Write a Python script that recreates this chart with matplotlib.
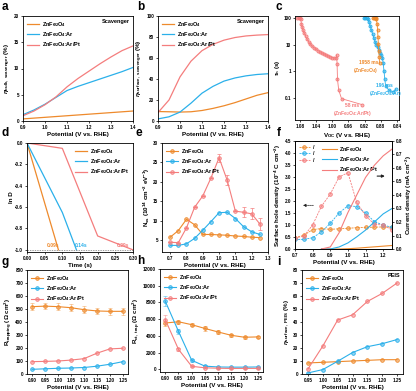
import matplotlib
matplotlib.use("Agg")
import matplotlib.pyplot as plt
import numpy as np

plt.rcParams['font.family'] = ['Liberation Sans', 'DejaVu Sans']
plt.rcParams['font.weight'] = 'bold'
plt.rcParams['axes.labelweight'] = 'bold'
plt.rcParams['mathtext.fontset'] = 'custom'
plt.rcParams['mathtext.rm'] = 'Liberation Sans:bold'
plt.rcParams['mathtext.bf'] = 'Liberation Sans:bold'
plt.rcParams['mathtext.it'] = 'Liberation Sans:italic:bold'
plt.rcParams['axes.linewidth'] = 0.6
plt.rcParams['xtick.major.width'] = 0.5
plt.rcParams['ytick.major.width'] = 0.5
plt.rcParams['xtick.major.size'] = 1.5
plt.rcParams['ytick.major.size'] = 1.5

OR = '#EE8A2C'
BL = '#2BB0EA'
RD = '#F47D7D'
labels = ['ZnFe$_2$O$_4$', 'ZnFe$_2$O$_4$:Ar', 'ZnFe$_2$O$_4$:Ar/Pt']
cols = [OR, BL, RD]

# ---- data ----
a_x = [0.90, 0.95, 1.00, 1.05, 1.10, 1.15, 1.20, 1.25, 1.30, 1.35, 1.40]
a_zfo = [0.40, 0.55, 0.70, 0.85, 1.00, 1.15, 1.30, 1.45, 1.60, 1.75, 1.90]
a_ar = [1.2, 2.1, 3.2, 4.5, 5.8, 6.6, 7.3, 8.0, 8.7, 9.4, 10.2]
a_arpt = [1.0, 1.9, 3.1, 4.6, 6.5, 8.1, 9.5, 10.9, 12.2, 13.4, 14.3]

b_x = [0.90, 0.95, 1.00, 1.05, 1.10, 1.15, 1.20, 1.25, 1.30, 1.35, 1.40]
b_zfo = [9.0, 8.8, 8.5, 8.8, 10.0, 12.0, 14.5, 17.5, 21.0, 24.5, 27.0]
b_ar = [2.0, 4.0, 8.5, 17.0, 26.5, 33.0, 38.0, 41.0, 43.0, 44.3, 45.0]
b_arpt = [8.0, 20.0, 42.0, 57.0, 67.0, 73.0, 77.0, 79.5, 81.0, 81.8, 82.3]

c_zfo_v = [0.899, 0.897, 0.895, 0.893, 0.891, 0.889, 0.888, 0.887, 0.886, 0.885, 0.884, 0.883]
c_zfo_t = [100, 100, 100, 100, 90, 60, 35, 20, 11, 6, 3.5, 2.0]
c_ar_v = [0.921, 0.918, 0.915, 0.912, 0.909, 0.906, 0.903, 0.900, 0.897, 0.894, 0.891,
          0.888, 0.885, 0.882, 0.879, 0.876, 0.874, 0.872, 0.870, 0.868, 0.860, 0.850, 0.843]
c_ar_t = [100, 100, 100, 95, 70, 50, 35, 25, 18, 13, 10, 8, 6.5, 5, 4, 3.2, 2.0, 1.0, 0.5, 0.28,
          0.20, 0.17, 0.21]
c_pt_v = [1.086, 1.083, 1.080, 1.078, 1.076, 1.074, 1.072, 1.069, 1.066, 1.062, 1.058, 1.054,
          1.050, 1.045, 1.040, 1.035, 1.030, 1.025, 1.020, 1.015, 1.010, 1.005, 1.000, 0.995,
          0.990, 0.989, 0.988, 0.987, 0.984, 0.977, 0.927]
c_pt_t = [100, 100, 100, 90, 60, 45, 35, 27, 21, 16, 12.5, 10.5, 9, 7.8, 6.8, 6.0, 5.4, 4.9,
          4.5, 4.1, 3.8, 3.5, 3.3, 3.2, 3.3, 4.0, 1.9, 0.5, 0.2, 0.095, 0.057]

d_zfo_t = [0.0, 0.089]
d_zfo = [0.0, -1.0]
d_ar_t = [0.0, 0.10, 0.14]
d_ar = [0.0, -0.65, -1.0]
d_pt_t = [0.0, 0.10, 0.20, 0.30]
d_pt = [0.0, -0.05, -0.87, -1.0]

e_x = [0.70, 0.75, 0.80, 0.85, 0.90, 0.95, 1.00, 1.05, 1.10, 1.15, 1.20, 1.25]
e_zfo = [5.8, 7.5, 10.4, 9.0, 6.5, 6.5, 6.4, 6.3, 6.1, 6.0, 5.8, 5.7]
e_ar = [3.7, 3.7, 4.1, 5.5, 7.6, 9.8, 12.1, 12.2, 10.6, 8.5, 7.2, 6.5]
e_pt = [4.5, 4.4, 8.2, 13.5, 16.4, 21.0, 26.2, 20.4, 12.5, 12.2, 11.8, 9.2]
e_pt_err = [0, 0, 0, 0, 0, 0, 1.0, 1.3, 0, 1.3, 1.4, 1.5]

f_x = [0.70, 0.75, 0.80, 0.85, 0.90, 0.95, 1.00, 1.05, 1.10, 1.15, 1.20, 1.25]
f_zfo = [0.47, 0.57, 0.81, 0.85, 0.82, 0.84, 0.86, 0.89, 0.90, 0.91, 0.92, 0.91]
f_ar = [0.40, 0.40, 0.47, 0.71, 1.07, 1.50, 1.80, 1.77, 1.50, 1.14, 1.00, 0.90]
f_pt = [0.47, 0.53, 1.00, 1.78, 2.29, 3.00, 3.18, 1.94, 1.39, 1.03, 1.00, 0.79]
fj_x = [0.85, 0.90, 0.95, 1.00, 1.05, 1.10, 1.15, 1.20, 1.25]
fj_zfo = [0.0, 0.0, 0.0, 0.002, 0.006, 0.011, 0.016, 0.021, 0.026]
fj_ar = [0.0, 0.0, 0.015, 0.045, 0.09, 0.14, 0.20, 0.26, 0.30]
fj_pt = [0.0, 0.015, 0.12, 0.27, 0.40, 0.53, 0.62, 0.69, 0.74]

g_x = [0.90, 0.95, 1.00, 1.05, 1.10, 1.15, 1.20, 1.25]
g_zfo = [518, 522, 518, 510, 495, 485, 482, 482]
g_ar = [36, 40, 44, 46, 50, 60, 75, 95]
g_pt = [95, 97, 100, 107, 118, 160, 193, 198]

h_x = [0.90, 0.95, 1.00, 1.05, 1.10, 1.15, 1.20, 1.25]
h_zfo = [5550, 5700, 5350, 4900, 4480, 4080, 3850, 3890]
h_ar = [8150, 4550, 1100, 400, 300, 280, 280, 300]
h_pt = [5950, 2400, 380, 200, 150, 120, 130, 130]
h_zfo_err = [300, 250, 200, 250, 200, 150, 150, 150]
h_ar_err = [600, 300, 150, 100, 50, 50, 50, 50]
h_pt_err = [500, 200, 100, 50, 50, 50, 50, 50]

i_x = [0.95, 1.00, 1.05, 1.10, 1.15, 1.20, 1.25]
i_zfo = [8.5, 9.0, 9.5, 10.0, 10.5, 11.0, 11.0]
i_ar = [0.8, 3.4, 9.8, 16.5, 21.0, 23.3, 26.5]
i_pt = [3.8, 21.5, 41.5, 45.5, 55.8, 62.0, 70.0]

# ---- figure ----
W, H = 416, 391
fig = plt.figure(figsize=(W / 100, H / 100), dpi=100)

def ax_at(x0, y0, x1, y1):
    return fig.add_axes([x0 / W, 1 - y1 / H, (x1 - x0) / W, (y1 - y0) / H])

TFS = 3.3
LFS = 4.5
LEGFS = 4.0

def style(ax):
    ax.tick_params(labelsize=TFS, pad=1.2, direction='out')
    for lab in ax.get_xticklabels() + ax.get_yticklabels():
        lab.set_fontweight('bold')

def leg(ax, loc='upper left', hl=2.2, **kw):
    return ax.legend(loc=loc, fontsize=LEGFS, frameon=False, handlelength=hl,
                     borderaxespad=0.3, labelspacing=0.25, handletextpad=0.5, **kw)

def letter(x, y, s):
    fig.text(x / W, 1 - y / H, s, fontsize=8.5, fontweight='bold', va='top', ha='left')

mk = dict(marker='o', markersize=2.6, markeredgewidth=0.6, lw=0.8)

def mline(ax, x, y, c, label=None, **kw):
    d = dict(mk)
    d.update(kw)
    return ax.plot(x, y, color=c, markerfacecolor=c + '88', markeredgecolor=c, label=label, **d)[0]

# a
ax = ax_at(23, 16, 133, 121)
for y, c, l in zip([a_zfo, a_ar, a_arpt], cols, labels):
    ax.plot(a_x, y, color=c, lw=0.9, label=l)
ax.set_xlim(0.9, 1.4); ax.set_ylim(0, 20)
ax.set_xticks([0.9, 1.0, 1.1, 1.2, 1.3, 1.4]); ax.set_yticks([0, 5, 10, 15, 20])
ax.set_ylabel(r'$\eta_{\mathrm{bulk,\ scavenger}}$ (%)', fontsize=LFS, labelpad=1)
ax.set_xlabel('Potential (V vs. RHE)', fontsize=LFS, labelpad=1.5)
ax.text(0.97, 0.97, 'Scavenger', transform=ax.transAxes, fontsize=LEGFS, ha='right', va='top')
leg(ax); style(ax)
letter(2, 1, 'a')

# b
ax = ax_at(158, 16, 268, 121)
for y, c, l in zip([b_zfo, b_ar, b_arpt], cols, labels):
    ax.plot(b_x, y, color=c, lw=0.9, label=l)
ax.set_xlim(0.9, 1.4); ax.set_ylim(0, 100)
ax.set_xticks([0.9, 1.0, 1.1, 1.2, 1.3, 1.4]); ax.set_yticks([0, 20, 40, 60, 80, 100])
ax.set_ylabel(r'$\eta_{\mathrm{surface,\ scavenger}}$ (%)', fontsize=LFS, labelpad=1)
ax.set_xlabel('Potential (V vs. RHE)', fontsize=LFS, labelpad=1.5)
ax.text(0.97, 0.97, 'Scavenger', transform=ax.transAxes, fontsize=LEGFS, ha='right', va='top')
leg(ax); style(ax)
letter(137, 1, 'b')

# c
ax = ax_at(295, 16, 399, 120)
mline(ax, c_pt_v, c_pt_t, RD, markersize=2.2, lw=0.6)
mline(ax, c_ar_v, c_ar_t, BL, markersize=2.2, lw=0.6)
mline(ax, c_zfo_v, c_zfo_t, OR, markersize=2.2, lw=0.6)
ax.set_yscale('log')
ax.set_xlim(1.092, 0.835); ax.set_ylim(0.015, 120)
ax.set_xticks([1.08, 1.04, 1.00, 0.96, 0.92, 0.88, 0.84])
ax.set_xticklabels(['1.08', '1.04', '1.00', '0.96', '0.92', '0.88', '0.84'])
ax.set_yticks([0.1, 1, 10, 100]); ax.set_yticklabels(['0.1', '1', '10', '100'])
ax.minorticks_off()
ax.set_ylabel(r'$\tau_{\mathrm{n}}$ (s)', fontsize=LFS, labelpad=1)
ax.set_xlabel(r'V$_{\mathrm{OC}}$ (V vs. RHE)', fontsize=LFS, labelpad=1.5)
ax.text(0.886, 1.4, '1958 ms\n(ZnFe$_2$O$_4$)', color=OR, fontsize=3.6, ha='right', va='center')
ax.text(0.870, 0.19, '196 ms\n(ZnFe$_2$O$_4$:Ar)', color=BL, fontsize=3.6, ha='center', va='center')
ax.text(0.950, 0.033, '58 ms\n(ZnFe$_2$O$_4$:Ar/Pt)', color=RD, fontsize=3.6, ha='center', va='center')
style(ax)
letter(276, 1, 'c')

# d
ax = ax_at(27, 143, 133, 252)
ax.plot(d_zfo_t, d_zfo, color=OR, lw=0.9, label=labels[0])
ax.plot(d_ar_t, d_ar, color=BL, lw=0.9, label=labels[1])
ax.plot(d_pt_t, d_pt, color=RD, lw=0.9, label=labels[2])
ax.axhline(-1.0, color='#777777', lw=0.5, ls=(0, (2, 1.5)))
ax.set_xlim(0, 0.30); ax.set_ylim(-1.02, 0.0)
ax.set_xticks([0, 0.05, 0.10, 0.15, 0.20, 0.25, 0.30])
ax.set_xticklabels(['0.00', '0.05', '0.10', '0.15', '0.20', '0.25', '0.30'])
ax.set_yticks([-1.0, -0.8, -0.6, -0.4, -0.2, 0.0])
ax.set_yticklabels(['-1.0', '-0.8', '-0.6', '-0.4', '-0.2', '0.0'])
ax.text(0.074, -0.985, '0.09s', color=OR, fontsize=3.6, ha='center', va='bottom')
ax.text(0.154, -0.985, '0.14s', color=BL, fontsize=3.6, ha='center', va='bottom')
ax.text(0.272, -0.985, '0.29s', color=RD, fontsize=3.6, ha='center', va='bottom')
ax.set_ylabel('ln D', fontsize=LFS, labelpad=1)
ax.set_xlabel('Time (s)', fontsize=LFS, labelpad=1.5)
leg(ax, loc='upper right')
style(ax)
letter(2, 127, 'd')

# e
ax = ax_at(162, 143, 268, 252)
mline(ax, e_x, e_zfo, OR, label=labels[0])
mline(ax, e_x, e_ar, BL, label=labels[1])
mline(ax, e_x, e_pt, RD, label=labels[2])
ax.errorbar(e_x, e_pt, yerr=e_pt_err, fmt='none', ecolor=RD, elinewidth=0.5, capsize=1.2, capthick=0.5)
ax.set_xlim(0.65, 1.30); ax.set_ylim(2, 30)
ax.set_xticks([0.7, 0.8, 0.9, 1.0, 1.1, 1.2, 1.3]); ax.set_yticks([5, 10, 15, 20, 25, 30])
ax.set_ylabel(r'N$_{\mathrm{ss}}$ (10$^{14}$ cm$^{-2}$ eV$^{-1}$)', fontsize=LFS, labelpad=1)
ax.set_xlabel('Potential (V vs. RHE)', fontsize=LFS, labelpad=1.5)
leg(ax); style(ax)
letter(136, 127, 'e')

# f
ax = ax_at(295, 141, 392, 249)
ax2 = ax.twinx()
hs = []
for y, c in zip([f_zfo, f_ar, f_pt], cols):
    hs.append(mline(ax, f_x, y, c, ls=(0, (2.5, 1.2)), lw=0.6))
js = []
for y, c in zip([fj_zfo, fj_ar, fj_pt], cols):
    js.append(ax2.plot(fj_x, y, color=c, lw=0.8)[0])
ax.set_xlim(0.7, 1.25); ax.set_ylim(0, 4.5)
ax2.set_ylim(0, 0.8)
ax.set_xticks([0.7, 0.8, 0.9, 1.0, 1.1, 1.2])
ax.set_yticks(np.arange(0, 4.51, 0.5))
ax.set_yticklabels(['%.1f' % v for v in np.arange(0, 4.51, 0.5)])
ax2.set_yticks(np.arange(0, 0.81, 0.1))
ax2.set_yticklabels(['%.1f' % v for v in np.arange(0, 0.81, 0.1)])
ax.set_ylabel(r'Surface hole density (10$^{-4}$ C cm$^{-2}$)', fontsize=LFS, labelpad=1)
ax2.set_ylabel(r'Current density (mA cm$^{-2}$)', fontsize=LFS, labelpad=1)
ax.set_xlabel('Potential (V vs. RHE)', fontsize=LFS, labelpad=1.5)
l1 = ax.legend(hs, ['/', '/', '/'], loc='upper left', fontsize=LEGFS, frameon=False,
               handlelength=2.0, borderaxespad=0.3, labelspacing=0.25, handletextpad=0.5)
ax.add_artist(l1)
ax.legend(js, labels, loc='upper left', bbox_to_anchor=(0.24, 1.0), fontsize=LEGFS, frameon=False,
          handlelength=2.6, borderaxespad=0.3, labelspacing=0.25, handletextpad=0.5)
ax.annotate('', xy=(0.73, 1.82), xytext=(0.82, 1.82),
            arrowprops=dict(arrowstyle='-|>', color='#222222', lw=0.5, ls=(0, (2, 1)),
                            mutation_scale=4))
ax2.annotate('', xy=(1.225, 0.54), xytext=(1.15, 0.54),
             arrowprops=dict(arrowstyle='-|>', color='#222222', lw=0.8, mutation_scale=4))
style(ax); style(ax2)
ax2.tick_params(pad=1.0)
letter(277, 127, 'f')

# g
ax = ax_at(27, 270, 128, 374)
mline(ax, g_x, g_zfo, OR, label=labels[0])
mline(ax, g_x, g_ar, BL, label=labels[1])
mline(ax, g_x, g_pt, RD, label=labels[2])
ax.errorbar(g_x, g_zfo, yerr=25, fmt='none', ecolor=OR, elinewidth=0.4, capsize=1.2, capthick=0.4, alpha=0.7)
ax.set_xlim(0.88, 1.27); ax.set_ylim(0, 800)
ax.set_xticks(g_x); ax.set_xticklabels(['%.2f' % v for v in g_x])
ax.set_yticks(range(0, 801, 100))
ax.set_ylabel(r'R$_{\mathrm{trapping}}$ ($\Omega$ cm$^2$)', fontsize=LFS, labelpad=1)
ax.set_xlabel('Potential (V vs. RHE)', fontsize=LFS, labelpad=1.5)
leg(ax); style(ax)
letter(2, 256, 'g')

# h
ax = ax_at(160, 269, 263, 372)
for y, e, c, l in zip([h_zfo, h_ar, h_pt], [h_zfo_err, h_ar_err, h_pt_err], cols, labels):
    mline(ax, h_x, y, c, label=l)
    ax.errorbar(h_x, y, yerr=e, fmt='none', ecolor=c, elinewidth=0.4, capsize=1.2, capthick=0.4, alpha=0.8)
ax.set_xlim(0.88, 1.27); ax.set_ylim(-300, 12000)
ax.set_xticks(h_x); ax.set_xticklabels(['%.2f' % v for v in h_x])
ax.set_yticks(range(0, 12001, 2000))
ax.set_ylabel(r'R$_{\mathrm{ct,\ trap}}$ ($\Omega$ cm$^2$)', fontsize=LFS, labelpad=1)
ax.set_xlabel('Potential (V vs. RHE)', fontsize=LFS, labelpad=1.5)
leg(ax); style(ax)
letter(137, 255, 'h')

# i
ax = ax_at(302, 270, 403, 374)
mline(ax, i_x, i_zfo, OR, label=labels[0])
mline(ax, i_x, i_ar, BL, label=labels[1])
mline(ax, i_x, i_pt, RD, label=labels[2])
ax.set_xlim(0.93, 1.27); ax.set_ylim(0, 80)
ax.set_xticks(i_x); ax.set_xticklabels(['%.2f' % v for v in i_x])
ax.set_yticks(range(0, 81, 10))
ax.set_ylabel(r'$\eta_{\mathrm{surface,\ PEIS}}$ (%)', fontsize=LFS, labelpad=1)
ax.set_xlabel('Potential (V vs. RHE)', fontsize=LFS, labelpad=1.5)
ax.text(0.97, 0.97, 'PEIS', transform=ax.transAxes, fontsize=LEGFS, ha='right', va='top')
leg(ax); style(ax)
letter(277, 256, 'i')

fig.savefig('out.png', dpi=100)
